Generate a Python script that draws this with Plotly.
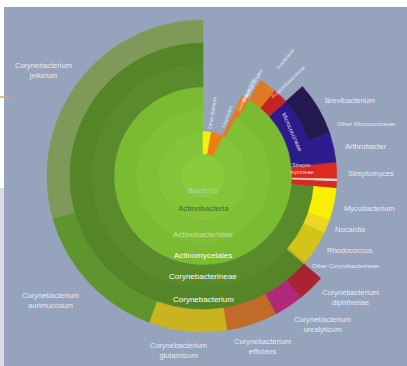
import plotly.graph_objects as go

# ---- data (clockwise from 12 o'clock, as in the reference) ----
ids = ["Bacteria",
       "OtherBac", "Firmicutes", "Actinobacteria",
       "Coriobacteridae", "Actinobacteridae",
       "Coriobacteriales", "Bifidobacteriales", "Actinomycetales",
       "Frankineae", "Propionibacterineae", "Micrococcineae", "Streptomycineae",
       "OtherActino", "Pseudonocardineae", "Corynebacterineae",
       "Brevibacterium", "OtherMicro", "Arthrobacter",
       "Streptomyces", "OtherActinoG", "Pseudonocardia",
       "Mycobacterium", "Nocardia", "Rhodococcus", "OtherCoryne", "Corynebacterium",
       "C_diphtheriae", "C_urealyticum", "C_efficiens", "C_glutamicum",
       "C_aurimucosum", "C_jeikeium"]
parents = ["",
           "Bacteria", "Bacteria", "Bacteria",
           "Actinobacteria", "Actinobacteria",
           "Coriobacteridae", "Actinobacteridae", "Actinobacteridae",
           "Actinomycetales", "Actinomycetales", "Actinomycetales", "Actinomycetales",
           "Actinomycetales", "Actinomycetales", "Actinomycetales",
           "Micrococcineae", "Micrococcineae", "Micrococcineae",
           "Streptomycineae", "OtherActino", "Pseudonocardineae",
           "Corynebacterineae", "Corynebacterineae", "Corynebacterineae",
           "Corynebacterineae", "Corynebacterineae",
           "Corynebacterium", "Corynebacterium", "Corynebacterium",
           "Corynebacterium", "Corynebacterium", "Corynebacterium"]
values = [360,
          10, 16, 334,
          3, 331,
          3, 2, 329,
          9, 8, 36, 7, 1, 3, 265,
          23, 1, 12,
          7, 1, 3,
          14, 6, 15, 1, 229,
          10, 11, 19, 29, 54, 106]
colors = ["#8acb3c",
          "#f4ee12", "#f07c14", "#84c438",
          "#e8781a", "#80c034",
          "#e8781a", "#e8781a", "#7bbb31",
          "#e07a22", "#c42424", "#2d1b8c", "#d8281f", "#e8d4cc", "#d42a22", "#598b2b",
          "#241a50", "#2d1b8c", "#2e1c8e",
          "#dc2a20", "#f0e2de", "#d42c22",
          "#f8f000", "#ebd822", "#d4c41a", "#c8b020", "#548627",
          "#a82432", "#b02878", "#c26a28", "#c8b41e", "#5e952c", "#7f9a58"]

inner_labels = ["Bacteria", "Actinobacteria", "Actinobacteridae",
                "Actinomycetales", "Corynebacterineae", "Corynebacterium"]
side_labels = ["Brevibacterium", "Other Micrococcineae", "Arthrobacter", "Streptomyces",
               "Mycobacterium", "Nocardia", "Rhodococcus", "Other Corynebacterineae"]
species_labels = ["Corynebacterium<br>diphtheriae", "Corynebacterium<br>urealyticum",
                  "Corynebacterium<br>efficiens", "Corynebacterium<br>glutamicum",
                  "Corynebacterium<br>aurimucosum", "Corynebacterium<br>jeikeium"]
top_labels = ["Other Bacteria", "Firmicutes", "Coriobacteridae",
              "Bifidobacteriales", "Frankineae", "Propionibacterineae"]

# plotly lays siblings counter-clockwise: reverse sibling order
children = {}
for i, p in enumerate(parents):
    children.setdefault(p, []).append(i)
order = []
def dfs(i):
    order.append(i)
    for c in reversed(children.get(ids[i], [])):
        dfs(c)
dfs(0)

fig = go.Figure(go.Sunburst(
    ids=[ids[i] for i in order],
    labels=[ids[i] for i in order],
    parents=[parents[i] for i in order],
    values=[values[i] for i in order],
    branchvalues="total",
    sort=False,
    rotation=90,
    textinfo="none",
    hoverinfo="none",
    leaf=dict(opacity=1),
    marker=dict(colors=[colors[i] for i in order],
                line=dict(color=[colors[i] for i in order], width=0.6)),
    domain=dict(x=[(203 - 156) / 407, (203 + 156) / 407],
                y=[1 - 332 / 366, 1 - 20 / 366]),
))

W, H = 407, 366
def px(x, y):
    return x / W, 1 - y / H

ann = []
inner_pos = [190, 208, 234, 255, 276, 299]
inner_col = ["rgba(175,215,200,0.85)", "#3f6e1e", "rgba(225,240,205,0.7)",
             "white", "white", "white"]
for t, yy, c in zip(inner_labels, inner_pos, inner_col):
    x, y = px(203, yy)
    ann.append(dict(x=x, y=y, text=t, font=dict(size=8, color=c)))

side_pos = [(323, 101), (335, 124), (343, 146), (346, 173),
            (342, 208), (333, 229), (325, 250), (310, 266)]
for t, (xx, yy) in zip(side_labels, side_pos):
    x, y = px(xx, yy)
    sz = 6 if t.startswith("Other") else 7.5
    ann.append(dict(x=x, y=y, text=t, xanchor="left",
                    font=dict(size=sz, color="rgba(255,255,255,0.8)")))

sp_pos = [(350, 297), (322, 324), (262, 346), (178, 350), (50, 300), (43, 70)]
for t, (xx, yy) in zip(species_labels, sp_pos):
    x, y = px(xx, yy)
    ann.append(dict(x=x, y=y, text=t, font=dict(size=7.5, color="rgba(255,255,255,0.8)")))

top_pos = [(212, 113, -81), (227, 116, -71), (246, 94, -65),
           (252, 86, -61), (285, 59, -51), (288, 82, -44)]
for t, (xx, yy, a) in zip(top_labels, top_pos):
    x, y = px(xx, yy)
    ann.append(dict(x=x, y=y, text=t, textangle=a,
                    font=dict(size=5, color="rgba(255,255,255,0.8)")))

x, y = px(292, 132)
ann.append(dict(x=x, y=y, text="Micrococcineae", textangle=66,
                font=dict(size=6, color="rgba(255,255,255,0.85)")))
x, y = px(302, 169)
ann.append(dict(x=x, y=y, text="Strepto-<br>mycineae",
                font=dict(size=5.5, color="rgba(255,255,255,0.85)")))

for a in ann:
    a.update(xref="paper", yref="paper", showarrow=False)
    a.setdefault("xanchor", "center")
    a["yanchor"] = "middle"

shapes = [
    dict(type="rect", xref="paper", yref="paper", x0=0, x1=1, y0=1 - 7 / H, y1=1,
         fillcolor="white", line_width=0, layer="above"),
    dict(type="rect", xref="paper", yref="paper", x0=0, x1=4 / W, y0=1 - 188 / H, y1=1,
         fillcolor="white", line_width=0, layer="above"),
    dict(type="rect", xref="paper", yref="paper", x0=0, x1=4 / W, y0=0, y1=1 - 188 / H,
         fillcolor="#d8dce5", line_width=0, layer="above"),
    dict(type="line", xref="paper", yref="paper", x0=0, x1=10 / W, y0=1 - 97 / H,
         y1=1 - 97 / H, line=dict(color="#d9a46a", width=1.5), layer="above"),
]

fig.update_layout(width=W, height=H, margin=dict(l=0, r=0, t=0, b=0),
                  paper_bgcolor="#95a3bd", plot_bgcolor="#95a3bd",
                  font=dict(family="Liberation Sans"),
                  annotations=ann, shapes=shapes, showlegend=False)
fig.write_html("out.html", config={"displayModeBar": False},
               post_script="document.body.style.margin='0';document.body.style.overflow='hidden';")
